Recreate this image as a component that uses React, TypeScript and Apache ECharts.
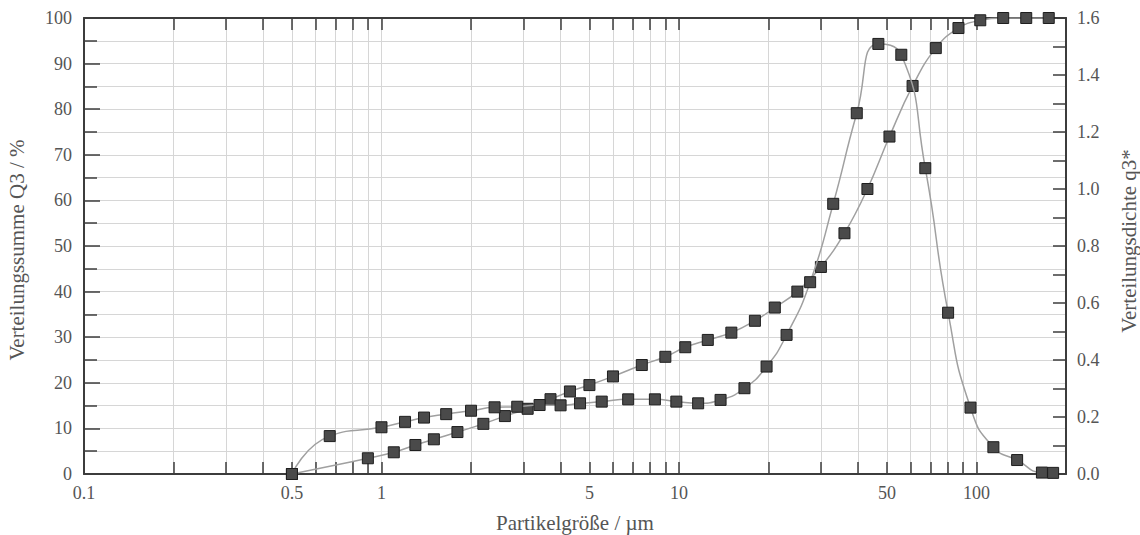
import React, { useEffect, useRef } from "react";
import * as echarts from "echarts";

// Cumulative distribution Q3 (%), class upper bounds in µm
const cumSize = [0.5, 0.9, 1.1, 1.3, 1.5, 1.8, 2.2, 2.6, 3.1, 3.7, 4.3, 5.0, 6.0, 7.5, 9.0, 10.5, 12.5, 15, 18, 21, 25, 30, 36, 43, 51, 61, 73, 87, 103, 123, 147, 175];
const cumQ3 = [0, 3.45, 4.76, 6.36, 7.61, 9.2, 11.0, 12.7, 14.3, 16.4, 18.1, 19.5, 21.4, 23.9, 25.7, 27.8, 29.4, 31.0, 33.6, 36.5, 40.0, 45.4, 52.8, 62.5, 74.0, 85.1, 93.4, 97.8, 99.5, 100, 100, 100];

// Density distribution q3* (right axis), class mean sizes in µm
const densSize = [0.5, 0.67, 1.0, 1.2, 1.39, 1.65, 2.0, 2.4, 2.86, 3.4, 4.0, 4.65, 5.5, 6.75, 8.3, 9.8, 11.6, 13.8, 16.6, 19.7, 23.0, 27.6, 33.0, 39.6, 46.8, 55.9, 67.3, 80.3, 95.5, 114, 137, 166, 181];
const densQ3 = [0, 0.133, 0.164, 0.183, 0.198, 0.21, 0.222, 0.234, 0.236, 0.242, 0.241, 0.248, 0.254, 0.262, 0.262, 0.254, 0.248, 0.26, 0.301, 0.377, 0.488, 0.673, 0.948, 1.266, 1.509, 1.471, 1.073, 0.566, 0.233, 0.094, 0.049, 0.005, 0.004];

// Axis ticks and labels
const xTickValues = [0.1, 0.2, 0.3, 0.4, 0.5, 0.6, 0.7, 0.8, 0.9, 1, 2, 3, 4, 5, 6, 7, 8, 9, 10, 20, 30, 40, 50, 60, 70, 80, 90, 100, 200];
const xLabelValues = [0.1, 0.5, 1, 5, 10, 50, 100];

const FONT = "'Liberation Serif', 'DejaVu Serif', serif";
const TEXT = "#555";
const FRAME = "#3c3c3c";
const GRID = "#d6d6d6";

export default function App() {
  const ref = useRef<HTMLDivElement>(null);

  useEffect(() => {
    if (!ref.current) return;
    const chart = echarts.init(ref.current, undefined, { renderer: "svg" });
    const label = { fontFamily: FONT, fontSize: 18, color: TEXT };
    const nameStyle = { fontFamily: FONT, fontSize: 21, color: TEXT };
    const marker = {
      symbol: "rect",
      symbolSize: 11,
      itemStyle: { color: "#4a4a4a", borderColor: "#1e1e1e", borderWidth: 1 },
      lineStyle: { color: "#a0a0a0", width: 1.5 },
    };
    chart.setOption({
      animation: false,
      backgroundColor: "#fff",
      grid: { left: 84, right: 74, top: 18, bottom: 61, containLabel: false, outerBoundsMode: "none" },
      xAxis: [
        {
          type: "log",
          logBase: 10,
          min: 0.1,
          max: 200,
          position: "bottom",
          name: "Partikelgröße / µm",
          nameLocation: "middle",
          nameGap: 38,
          nameTextStyle: { ...nameStyle },
          axisLine: { show: true, onZero: false, lineStyle: { color: FRAME, width: 2 } },
          axisTick: { show: true, inside: true, length: 12, customValues: xTickValues, lineStyle: { color: FRAME, width: 1.5 } },
          axisLabel: { ...label, margin: 10, customValues: xLabelValues, formatter: (v: number) => String(v) },
          splitLine: { show: true, lineStyle: { color: GRID, width: 1 } },
          minorTick: { show: false },
        },
        {
          type: "log",
          logBase: 10,
          min: 0.1,
          max: 200,
          position: "top",
          axisLine: { show: true, onZero: false, lineStyle: { color: FRAME, width: 2 } },
          axisTick: { show: true, inside: true, length: 12, customValues: xTickValues, lineStyle: { color: FRAME, width: 1.5 } },
          axisLabel: { show: false },
          splitLine: { show: false },
        },
      ],
      yAxis: [
        {
          type: "value",
          min: 0,
          max: 100,
          interval: 10,
          position: "left",
          name: "Verteilungssumme Q3 / %",
          nameLocation: "middle",
          nameGap: 57,
          nameRotate: 90,
          nameTextStyle: { ...nameStyle, padding: [0, 8, 0, 0] },
          axisLine: { show: true, onZero: false, lineStyle: { color: FRAME, width: 2 } },
          axisTick: { show: true, inside: true, length: 16, lineStyle: { color: FRAME, width: 1.5 } },
          minorTick: { show: true, splitNumber: 2, length: 13, lineStyle: { color: FRAME, width: 1.5 } },
          axisLabel: { ...label, margin: 12 },
          splitLine: { show: true, lineStyle: { color: GRID, width: 1 } },
          minorSplitLine: { show: true, lineStyle: { color: GRID, width: 1 } },
        },
        {
          type: "value",
          min: 0,
          max: 1.6,
          interval: 0.2,
          position: "right",
          name: "Verteilungsdichte q3*",
          nameLocation: "middle",
          nameGap: 52,
          nameRotate: 90,
          nameTextStyle: { ...nameStyle, padding: [0, 0, 0, 10] },
          axisLine: { show: true, onZero: false, lineStyle: { color: FRAME, width: 2 } },
          axisTick: { show: true, inside: true, length: 13, lineStyle: { color: FRAME, width: 1.5 } },
          minorTick: { show: true, splitNumber: 2, length: 13, lineStyle: { color: FRAME, width: 1.5 } },
          axisLabel: { ...label, margin: 11, formatter: (v: number) => v.toFixed(1) },
          splitLine: { show: false },
        },
      ],
      series: [
        {
          name: "Q3",
          type: "line",
          xAxisIndex: 0,
          yAxisIndex: 0,
          smooth: 0.45,
          data: cumSize.map((x, i) => [x, cumQ3[i]]),
          ...marker,
          z: 3,
        },
        {
          name: "q3*",
          type: "line",
          xAxisIndex: 0,
          yAxisIndex: 1,
          smooth: 0.55,
          data: densSize.map((x, i) => [x, densQ3[i]]),
          ...marker,
          z: 4,
        },
      ],
    });
    return () => chart.dispose();
  }, []);

  return (
    <div
      ref={ref}
      style={{ position: "absolute", left: 0, top: 0, width: 1140, height: 535, background: "#fff" }}
    />
  );
}
